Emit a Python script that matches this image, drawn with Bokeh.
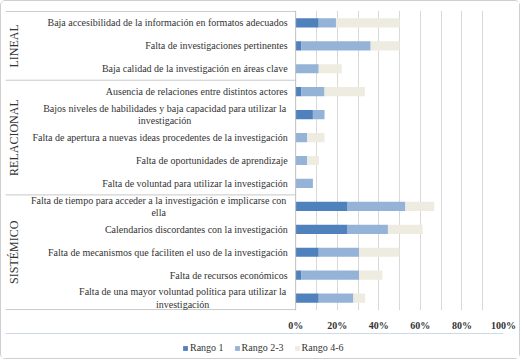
import math
from bokeh.plotting import figure
from bokeh.layouts import column
from bokeh.models import ColumnDataSource, Range1d, FixedTicker, Span, Legend, LegendItem
from bokeh.core.properties import value
from bokeh.embed import file_html
from bokeh.resources import INLINE

# ---------------- data ----------------
groups = ["LINEAL", "RELACIONAL", "SISTÉMICO"]
group_sizes = [3, 5, 5]
categories = [
    "Baja accesibilidad de la información en formatos adecuados",
    "Falta de investigaciones pertinentes",
    "Baja calidad de la investigación en áreas clave",
    "Ausencia de relaciones entre distintos actores",
    "Bajos niveles de habilidades y baja capacidad para utilizar la\ninvestigación",
    "Falta de apertura a nuevas ideas procedentes de la investigación",
    "Falta de oportunidades de aprendizaje",
    "Falta de voluntad para utilizar la investigación",
    "Falta de tiempo para acceder a la investigación e implicarse con\nella",
    "Calendarios discordantes con la investigación",
    "Falta de mecanismos que faciliten el uso de la investigación",
    "Falta de recursos económicos",
    "Falta de una mayor voluntad política para utilizar la\ninvestigación",
]
rango1 = [11.1, 2.8, 0.0, 2.8, 8.3, 0.0, 0.0, 0.0, 25.0, 25.0, 11.1, 2.8, 11.1]
rango23 = [8.3, 33.3, 11.1, 11.1, 5.6, 5.6, 5.6, 8.3, 27.8, 19.4, 19.4, 27.8, 16.7]
rango46 = [30.6, 13.9, 11.1, 19.4, 0.0, 8.3, 5.6, 0.0, 13.9, 16.7, 19.4, 11.1, 5.6]
series_names = ["Rango 1", "Rango 2-3", "Rango 4-6"]
x_ticks = [0, 20, 40, 60, 80, 100]
x_tick_labels = ["0%", "20%", "40%", "60%", "80%", "100%"]
grid_ticks = [10, 20, 30, 40, 50, 60, 70, 80, 90, 100]

# ---------------- style ----------------
colors = ["#4F81BD", "#95B3D7", "#EEECE1"]
SERIF = "Liberation Serif"
TXT = "#333333"
X_LEFT = -139.6  # label area (data units left of 0 %)
first_line_w = {4: 246, 8: 258, 12: 210}

n = len(categories)
ys = [i + 0.5 for i in range(n)]

p = figure(width=518, height=332, output_backend="svg", toolbar_location=None,
           x_range=Range1d(X_LEFT, 100), y_range=Range1d(n + 0.04, -0.04),
           y_axis_location=None,
           min_border_left=4, min_border_right=16, min_border_top=9, min_border_bottom=20)
p.outline_line_color = None
p.ygrid.visible = False
p.xgrid.ticker = FixedTicker(ticks=grid_ticks)
p.xgrid.grid_line_color = "#d9d9d9"

p.xaxis.ticker = FixedTicker(ticks=x_ticks)
p.xaxis.major_label_overrides = {t: l for t, l in zip(x_ticks, x_tick_labels)}
p.xaxis.axis_line_color = None
p.xaxis.major_tick_line_color = None
p.xaxis.minor_tick_line_color = None
p.xaxis.major_label_text_font = SERIF
p.xaxis.major_label_text_font_style = "bold"
p.xaxis.major_label_text_font_size = "10px"
p.xaxis.major_label_text_color = "#333333"
p.xaxis.major_label_standoff = 3

src = ColumnDataSource(dict(y=ys, r1=rango1, r23=rango23, r46=rango46))
p.hbar_stack(["r1", "r23", "r46"], y="y", height=0.4, color=colors,
             line_color=None, source=src)

p.add_layout(Span(location=0, dimension="height", line_color="#bfbfbf", line_width=1))

bounds = [0]
for s in group_sizes:
    bounds.append(bounds[-1] + s)
p.segment(x0=X_LEFT, x1=0, y0=bounds, y1=bounds, line_color="#c8c8c8", line_width=1)

single = [i for i in range(n) if "\n" not in categories[i]]
multi = [i for i in range(n) if "\n" in categories[i]]
s1 = ColumnDataSource(dict(y=[ys[i] for i in single], t=[categories[i] for i in single]))
p.text(x=0, y="y", text="t", source=s1, x_offset=-8, text_align="right",
       text_baseline="middle", text_font=value(SERIF), text_font_size="10px", text_color=TXT)
s2 = ColumnDataSource(dict(y=[ys[i] for i in multi], t=[categories[i] for i in multi],
                           xo=[-8 - first_line_w[i] / 2 for i in multi]))
p.text(x=0, y="y", text="t", source=s2, x_offset="xo", text_align="center",
       text_baseline="middle", text_font=value(SERIF), text_font_size="10px",
       text_color=TXT, text_line_height=1.15)

gc = [(bounds[k] + bounds[k + 1]) / 2 for k in range(len(groups))]
p.text(x=X_LEFT, y=gc, text=groups, x_offset=8, angle=math.pi / 2, text_align="center",
       text_baseline="middle", text_font=value(SERIF), text_font_size="12px", text_color=TXT)

# ---------------- legend strip ----------------
lg = figure(width=518, height=25, output_backend="svg", toolbar_location=None,
            x_range=Range1d(0, 1), y_range=Range1d(0, 1),
            x_axis_location=None, y_axis_location=None, min_border=0)
lg.outline_line_color = None
lg.grid.visible = False
dummies = [lg.hbar(y=[5], right=[1], height=0.1, color=c, line_color=None) for c in colors]
legend = Legend(items=[LegendItem(label=nm, renderers=[r]) for nm, r in zip(series_names, dummies)],
                orientation="horizontal", location=(177, 5))
legend.label_text_font = SERIF
legend.label_text_font_size = "10px"
legend.label_text_color = TXT
legend.glyph_width = 6
legend.glyph_height = 6
legend.label_height = 10
legend.label_standoff = 2
legend.spacing = 10
legend.padding = 0
legend.margin = 0
legend.border_line_color = None
legend.background_fill_alpha = 0
lg.add_layout(legend, "center")

layout = column(p, lg, spacing=0,
                styles={"border": "1px solid #cfcfcf", "border-radius": "5px"})
open("out.html", "w").write(file_html(layout, INLINE))
